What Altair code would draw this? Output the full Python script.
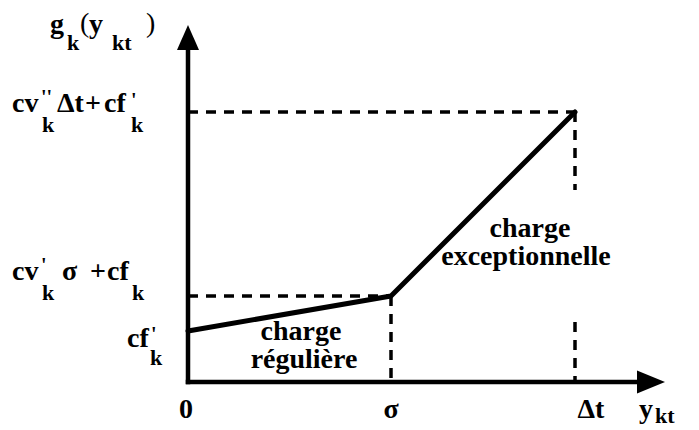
import altair as alt
import pandas as pd

# ---- values (1 unit ~ 10 px) ----
x_points = [0.0, 20.3, 38.7]          # 0, sigma, delta t
y_points = [5.1, 8.6, 27.0]           # cf'_k, cv'_k sigma + cf_k, cv''_k delta t + cf'_k
x_axis_end = 47.7
y_axis_end = 35.7
dt_guide_gap = [6.0, 19.2]            # the guide at delta t is interrupted here
x_tick_labels = ["0", "σ", "Δt"]
region_labels = [["charge", "régulière"], ["charge", "exceptionnelle"]]

# ---- layout ----
X_DOMAIN = [-18.0, 50.3]
Y_DOMAIN = [-4.8, 37.4]
W, H = 683, 422
FONT = "Liberation Serif"

xs = alt.Scale(domain=X_DOMAIN, nice=False, zero=False)
ys = alt.Scale(domain=Y_DOMAIN, nice=False, zero=False)


def X(f="x"):
    return alt.X(f"{f}:Q", scale=xs, axis=None)


def Y(f="y"):
    return alt.Y(f"{f}:Q", scale=ys, axis=None)


def segs(rows):
    return pd.DataFrame(rows, columns=["x", "y", "x2", "y2"])


layers = []

# axes
axes = segs([
    (x_points[0], 0.0, x_axis_end - 1.5, 0.0),
    (x_points[0], 0.0, x_points[0], y_axis_end - 1.5),
])
layers.append(
    alt.Chart(axes).mark_rule(color="black", strokeWidth=4.5, strokeCap="square")
    .encode(x=X(), y=Y(), x2="x2:Q", y2="y2:Q")
)

# arrow heads
layers.append(
    alt.Chart(pd.DataFrame({"x": [x_points[0]], "y": [y_axis_end]}))
    .mark_point(shape="M0,0L-0.88,2L0.88,2Z", size=625, filled=True,
                color="black", opacity=1, strokeWidth=0)
    .encode(x=X(), y=Y())
)
layers.append(
    alt.Chart(pd.DataFrame({"x": [x_axis_end], "y": [0.0]}))
    .mark_point(shape="M0,0L-2,-0.82L-2,0.82Z", size=784, filled=True,
                color="black", opacity=1, strokeWidth=0)
    .encode(x=X(), y=Y())
)

# dashed guides
guides = segs([
    (x_points[0], y_points[1], x_points[1], y_points[1]),
    (x_points[0], y_points[2], x_points[2], y_points[2]),
    (x_points[1], y_points[1], x_points[1], 0.0),
    (x_points[2], y_points[2], x_points[2], dt_guide_gap[1]),
    (x_points[2], dt_guide_gap[0], x_points[2], 0.0),
])
layers.append(
    alt.Chart(guides).mark_rule(color="black", strokeWidth=3.5, strokeDash=[10, 8])
    .encode(x=X(), y=Y(), x2="x2:Q", y2="y2:Q")
)

# cost curve
layers.append(
    alt.Chart(pd.DataFrame({"x": x_points, "y": y_points}))
    .mark_line(color="black", strokeWidth=5, strokeCap="round", strokeJoin="round")
    .encode(x=X(), y=Y())
)


def txt(x, y, text, dx, dy, size=28, align="left", weight="bold"):
    return (
        alt.Chart(pd.DataFrame({"x": [x], "y": [y], "t": [text]}))
        .mark_text(font=FONT, fontSize=size, fontWeight=weight, align=align,
                   baseline="alphabetic", dx=dx, dy=dy, color="black")
        .encode(x=X(), y=Y(), text="t:N")
    )


SUB = 22
PRIME = 20

# y-axis labels
x0 = x_points[0]
yt = y_points[2]
layers += [
    txt(x0, yt, "cv", -176, 0),
    txt(x0, yt, "''", -147, -8, PRIME),
    txt(x0, yt, "k", -146, 20, SUB),
    txt(x0, yt, "Δt", -131, 0),
    txt(x0, yt, "+", -103, 0),
    txt(x0, yt, "cf", -84, 0),
    txt(x0, yt, "'", -57, -5, PRIME),
    txt(x0, yt, "k", -57, 20, SUB),
]
ym = y_points[1]
layers += [
    txt(x0, ym, "cv", -176, -16),
    txt(x0, ym, "'", -147, -24, PRIME),
    txt(x0, ym, "k", -146, 4, SUB),
    txt(x0, ym, "σ", -126, -16),
    txt(x0, ym, "+", -98, -16),
    txt(x0, ym, "cf", -81, -16),
    txt(x0, ym, "k", -56, 4, SUB),
]
yb = y_points[0]
layers += [
    txt(x0, yb, "cf", -61, 16),
    txt(x0, yb, "'", -37, 10, PRIME),
    txt(x0, yb, "k", -38, 34, SUB),
]

# y-axis title g_k(y_kt)
layers += [
    txt(x0, y_axis_end, "g", -138, 8),
    txt(x0, y_axis_end, "k", -121, 25, SUB),
    txt(x0, y_axis_end, "(", -108, 7, weight="normal"),
    txt(x0, y_axis_end, "y", -99, 8),
    txt(x0, y_axis_end, "kt", -76, 25, SUB),
    txt(x0, y_axis_end, ")", -42, 7, weight="normal"),
]

# x tick labels
tick_dx = [-2, 0, 16]
for xv, lab, ddx in zip(x_points, x_tick_labels, tick_dx):
    layers.append(txt(xv, 0.0, lab, ddx, 36, 28, align="center"))

# x-axis title y_kt
layers += [
    txt(x_axis_end, 0.0, "y", -26, 36),
    txt(x_axis_end, 0.0, "kt", -10, 41, SUB),
]

# region labels, placed from the midpoint of each segment
offsets = [[(11.5, 26.5), (14.5, 54.5)], [(47, 33), (43, 61)]]
for i in range(2):
    mx = (x_points[i] + x_points[i + 1]) / 2
    my = (y_points[i] + y_points[i + 1]) / 2
    for lab, (ddx, ddy) in zip(region_labels[i], offsets[i]):
        layers.append(txt(mx, my, lab, ddx, ddy, 28, align="center"))

chart = (
    alt.layer(*layers)
    .properties(width=W, height=H, autosize=alt.AutoSizeParams(type="none"),
                padding=0, background="white")
    .configure_view(stroke=None)
)

chart.save("out.html", embed_options={"renderer": "svg", "actions": False})
